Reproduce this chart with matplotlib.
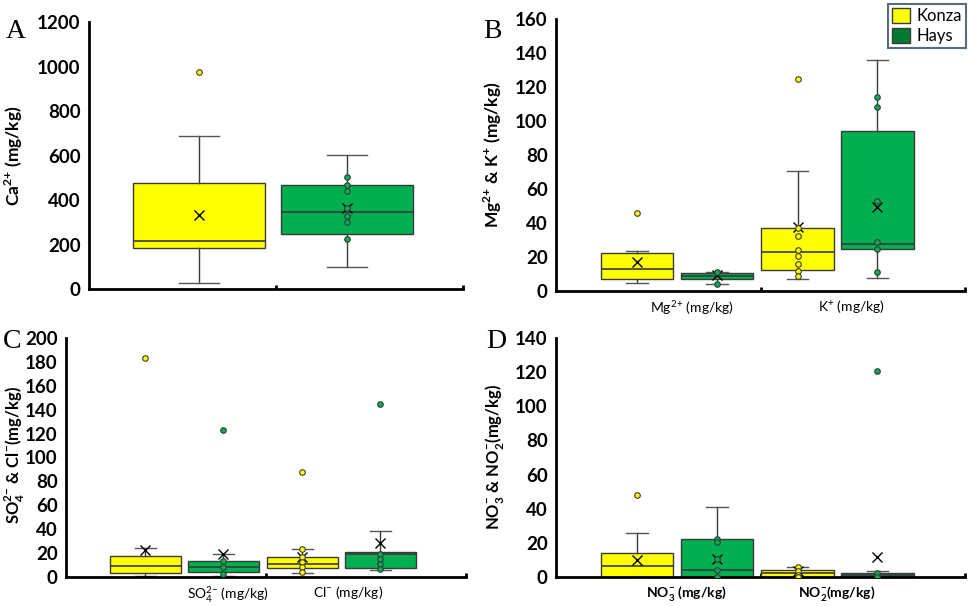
import matplotlib
matplotlib.use('Agg')
import matplotlib.pyplot as plt
from matplotlib.patches import Patch

plt.rcParams['font.family'] = ['Lato', 'DejaVu Sans']
plt.rcParams['mathtext.fontset'] = 'custom'
plt.rcParams['mathtext.rm'] = 'Lato'
plt.rcParams['mathtext.bf'] = 'Lato:bold'

# each box: [low whisker, q1, median, q3, high whisker]
# order of boxes in a panel: Konza, Hays (per category)
five_A = [[28, 184, 217, 478, 688], [97, 247, 348, 466, 603]]
mean_A = [331, 364]
pts_A = [[], [502, 468, 441, 365, 330, 301, 225]]
out_A = [[975], []]

cats_B = ['Mg$^{2}$$^{{+}}$ (mg/kg)', 'K$^{{+}}$ (mg/kg)']
five_B = [[4.9, 7.1, 13.1, 22.2, 23.3], [4.1, 6.9, 9.0, 10.4, 11.0],
          [7.1, 12.2, 23.1, 36.9, 70.4], [7.5, 24.9, 27.6, 94.3, 135.9]]
mean_B = [17.2, 9.6, 37.8, 49.2]
pts_B = [[], [11.0, 4.1], [36.9, 32.5, 24.1, 20.8, 15.7, 12.0, 8.8],
         [113.9, 108, 52.9, 29, 24.5, 11.4]]
out_B = [[45.7], [], [125], []]

cats_C = ['SO$_4^{2{-}}$ (mg/kg)', 'Cl$^{{-}}$ (mg/kg)']
five_C = [[0.8, 3.6, 9.5, 17.8, 24.5], [0.8, 3.9, 8.6, 13.6, 19.0],
          [3.1, 7.3, 11.0, 17.0, 23.7], [6.0, 7.8, 19.0, 20.9, 38.8]]
mean_C = [22.6, 19.0, 16.5, 28.2]
pts_C = [[], [13.6, 8.6, 2.5], [23.0, 16.5, 12.6, 8.7, 4.5], [19.0, 15.3, 11.2, 6.7]]
out_C = [[183], [122.8], [87.8], [144.6]]

cats_D = [r'NO$_\mathbf{3}^{\mathbf{-}}$ (mg/kg)', r'NO$_\mathbf{2}^{\mathbf{-}}$(mg/kg)']
five_D = [[0, 0, 6.6, 14.2, 25.6], [0, 0, 4.1, 22.3, 41.2],
          [0, 0, 2.1, 4.1, 5.7], [0, 0, 1.0, 2.5, 3.5]]
mean_D = [10.0, 10.5, 3.5, 11.9]
pts_D = [[], [22.3, 20.3, 10.5, 4.1, 0], [5.9, 3.5, 1.2, 0], [2.5, 0]]
out_D = [[48], [], [], [120.8]]

YELLOW = '#ffff00'
GREEN = '#00b050'
EDGE = '#3a3a3a'
colors = [YELLOW, GREEN, YELLOW, GREEN]
W = 0.355

fig = plt.figure(figsize=(9.69, 6.06), dpi=100)


def draw(ax, five, means, pts, outs, positions, ymax, ystep):
    stats = []
    for f, m, o in zip(five, means, outs):
        stats.append(dict(whislo=f[0], q1=f[1], med=f[2], q3=f[3], whishi=f[4],
                          mean=m, fliers=o))
    bp = ax.bxp(stats, positions=positions, widths=W, patch_artist=True,
                showmeans=True, capwidths=W * 0.3,
                boxprops=dict(edgecolor=EDGE, linewidth=1),
                medianprops=dict(color=EDGE, linewidth=1.2),
                whiskerprops=dict(color=EDGE, linewidth=1),
                capprops=dict(color='#555555', linewidth=1),
                meanprops=dict(marker='x', markeredgecolor='black', markersize=7,
                               markeredgewidth=1),
                flierprops=dict(marker='o', markersize=4, markeredgecolor=EDGE,
                                markeredgewidth=0.8))
    for i, box in enumerate(bp['boxes']):
        box.set_facecolor(colors[i])
    for i, fl in enumerate(bp['fliers']):
        fl.set_markerfacecolor(colors[i])
    for i, p in enumerate(pts):
        ax.scatter([positions[i]] * len(p), p, s=16, facecolor=colors[i],
                   edgecolor=EDGE, linewidth=0.8, zorder=4)
    ax.set_ylim(0, ymax)
    ax.set_yticks(range(0, ymax + 1, ystep))
    for s in ['top', 'right']:
        ax.spines[s].set_visible(False)
    for s in ['left', 'bottom']:
        ax.spines[s].set_linewidth(2)
    ax.tick_params(axis='y', length=0, labelsize=13.5, pad=6)
    for t in ax.get_yticklabels():
        t.set_fontweight('bold')
    ax.tick_params(axis='x', length=0, labelsize=10, pad=5)


# A
axA = fig.add_axes([0.0918, 0.523, 0.386, 0.4407])
draw(axA, five_A, mean_A, pts_A, out_A, [0.294, 0.69], 1200, 200)
axA.set_xlim(0, 1)
axA.set_xticks([])
axA.set_xticks([0.5, 1], minor=True)
axA.tick_params(axis='x', which='minor', direction='in', length=3, width=2)
axA.set_ylabel(r'Ca$^{\mathbf{2}\mathbf{+}}$ (mg/kg)', fontsize=12.5, fontweight='bold')
axA.yaxis.set_label_coords(-0.171, 0.5)

pos4 = [0.396, 0.787, 1.181, 1.572]

# B
axB = fig.add_axes([0.5738, 0.5198, 0.4221, 0.4488])
draw(axB, five_B, mean_B, pts_B, out_B, pos4, 160, 20)
axB.set_xlim(0, 2)
axB.set_xticks([0.665, 1.443], cats_B)
axB.set_xticks([1, 2], minor=True)
axB.tick_params(axis='x', which='minor', direction='in', length=3, width=2)
axB.set_ylabel(r'Mg$^{\mathbf{2}\mathbf{+}}$ & K$^{\mathbf{+}}$ (mg/kg)', fontsize=12.5,
               fontweight='bold')
axB.yaxis.set_label_coords(-0.127, 0.5)

# C
axC = fig.add_axes([0.0681, 0.0479, 0.4128, 0.3943])
draw(axC, five_C, mean_C, pts_C, out_C, pos4, 200, 20)
axC.set_xlim(0, 2)
axC.set_xticks([0.81, 1.41], cats_C)
axC.set_xticks([1, 2], minor=True)
axC.tick_params(axis='x', which='minor', direction='in', length=3, width=2)
axC.set_ylabel(r'SO$_\mathbf{4}^{\mathbf{2}\mathbf{-}}$ & Cl$^{\mathbf{-}}$(mg/kg)', fontsize=12,
               fontweight='bold')
axC.yaxis.set_label_coords(-0.098, 0.51)

# D
axD = fig.add_axes([0.5738, 0.0479, 0.4221, 0.3943])
draw(axD, five_D, mean_D, pts_D, out_D, pos4, 140, 20)
axD.set_xlim(0, 2)
axD.set_xticks([0.636, 1.374], cats_D)
for t in axD.get_xticklabels():
    t.set_fontweight('bold')
axD.set_xticks([1, 2], minor=True)
axD.tick_params(axis='x', which='minor', direction='in', length=3, width=2)
axD.set_ylabel(r'NO$_\mathbf{3}^{\mathbf{-}}$ & NO$_\mathbf{2}^{\mathbf{-}}$(mg/kg)',
               fontsize=12, fontweight='bold')
axD.yaxis.set_label_coords(-0.122, 0.5)

# panel letters
for lab, x, y in [('A', 16, 31), ('B', 492, 32), ('C', 12, 341), ('D', 496, 341)]:
    fig.text(x / 969, 1 - y / 606, lab, fontsize=20, family='Liberation Serif',
             ha='center', va='center')

handles = [Patch(facecolor=YELLOW, edgecolor=EDGE, label='Konza'),
           Patch(facecolor='#007a30', edgecolor=EDGE, label='Hays')]
leg = fig.legend(handles=handles, loc='upper right', bbox_to_anchor=(0.999, 0.996),
                 fontsize=12, frameon=True, fancybox=False, handlelength=1.1,
                 handleheight=1.0, handletextpad=0.4, borderpad=0.25, labelspacing=0.2,
                 borderaxespad=0.1)
leg.get_frame().set_edgecolor('#2f4858')
leg.get_frame().set_linewidth(1.5)

fig.savefig('out.png', dpi=100)
